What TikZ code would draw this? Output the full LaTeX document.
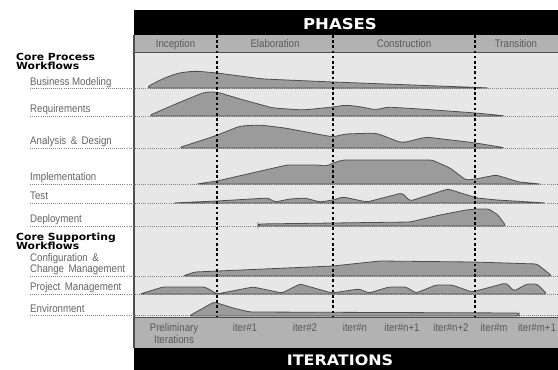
\documentclass[tikz,border=0pt]{standalone}
\usepackage{fontspec}
\newfontfamily\labelfont{Liberation Sans}[FakeStretch=0.88]
\newfontfamily\headfont{DejaVu Sans}[FakeStretch=1.1]
\definecolor{chartbg}{RGB}{231,231,231}
\definecolor{bandgray}{RGB}{178,178,178}
\definecolor{humpfill}{RGB}{155,155,155}
\definecolor{humpline}{RGB}{78,78,78}
\definecolor{labelgray}{RGB}{100,100,100}

\begin{document}
\begin{tikzpicture}[x=1pt,y=-1pt,
    hump/.style={fill=humpfill,draw=humpline,line width=0.8pt,rounded corners=2.5pt},
    rowline/.style={draw=gray,line width=0.7pt,dash pattern=on 0.8pt off 1.3pt},
    phaseline/.style={black,line width=2.6pt,dash pattern=on 2.6pt off 2.6pt},
    wflabel/.style={anchor=base west,inner sep=0pt,text=labelgray,font=\labelfont\fontsize{11}{12}\selectfont},
    grouplabel/.style={anchor=base west,inner sep=0pt,font=\headfont\bfseries\fontsize{9.8}{10}\selectfont},
    barlabel/.style={anchor=base,inner sep=0pt,text=white,font=\headfont\bfseries\fontsize{15}{16}\selectfont},
    cell/.style={anchor=base,inner sep=0pt,text=black!65,font=\labelfont\fontsize{11}{12}\selectfont}]

    \fill[white] (0,0) rectangle (558,370);
    \useasboundingbox (0,0) rectangle (558,370);

    %%%%%%%%%%%%%%%%%%%%%%%%%%%%%%%%%%%%%%%%%%%%%%%%%%%%%%

    % bars and bands
    \fill[black] (134,10) rectangle (558,35);
    \fill[bandgray] (134,35) rectangle (558,52);
    \fill[chartbg] (134,52) rectangle (558,317);
    \fill[bandgray] (134,317) rectangle (558,348);
    \fill[black] (134,348) rectangle (558,370);
    \draw[humpline,line width=1pt] (134,52) -- (558,52);
    \draw[humpline,line width=1pt] (134,317) -- (558,317);
    \draw[humpline,line width=1.5pt] (134,35) -- (134,348);

    % dotted rows under the workflows
    \foreach \y in {88,116,148,184,203,226,276,294,315}
        \draw[rowline] (30,\y) -- (558,\y);

    %%%%%%%%%%%%%%%%%%%%%%%%%%%%%%%%%%%%%%%%%%%%%%%%%%%%%%

    % core process workflows
    \node[grouplabel] (cpw1) at (16,60) {Core Process};
    \node[grouplabel] (cpw2) at (16,69.5) {Workflows};

    \node[wflabel] (busmod) at (30,85) {Business Modeling};
    \draw[hump,rounded corners=6pt] (145,88) -- (162,79) -- (178,73) -- (195,71) -- (217,73) -- (263,79) -- (333,82) -- (491,88) -- cycle;

    \node[wflabel] (req) at (30,112.5) {Requirements};
    \draw[hump,rounded corners=5pt] (148,116) -- (178,103) -- (205,92) -- (217,92) -- (240,99) -- (273,108) -- (303,110) -- (333,107) -- (346,105) -- (362,107) -- (376,110) -- (387,107) -- (420,109) -- (476,113) -- (506,116) -- cycle;

    \node[wflabel] (anadesign) at (30,144) {Analysis \,\&\, Design};
    \draw[hump,rounded corners=5pt] (178,148) -- (215,136) -- (240,126) -- (260,125) -- (285,128) -- (333,137) -- (345,134) -- (376,133) -- (402,143) -- (426,137) -- (476,143) -- (506,148) -- cycle;

    \node[wflabel] (impl) at (30,180) {Implementation};
    \draw[hump] (197,184) -- (217,181) -- (287,165) -- (317,165) -- (327,166) -- (333,163) -- (343,160) -- (432,160) -- (450,168) -- (466,180) -- (476,179) -- (496,175) -- (519,182) -- (540,184) -- cycle;

    \node[wflabel] (test) at (30,199) {Test};
    \draw[hump] (173,203) -- (217,201) -- (268,198) -- (275,202) -- (290,199) -- (305,198) -- (320,202) -- (333,200) -- (343,197) -- (367,202) -- (402,193) -- (410,201) -- (448,189) -- (477,198) -- (497,200) -- (546,203) -- cycle;

    \node[wflabel] (deploy) at (30,222) {Deployment};
    \draw[hump] (258,226) -- (258,224) -- (410,222) -- (440,215) -- (466,210) -- (476,209) -- (489,209) -- (498,215) -- (506,226) -- cycle;

    %%%%%%%%%%%%%%%%%%%%%%%%%%%%%%%%%%%%%%%%%%%%%%%%%%%%%%

    % core supporting workflows
    \node[grouplabel] (csw1) at (16,240) {Core Supporting};
    \node[grouplabel] (csw2) at (16,249) {Workflows};

    \node[wflabel] (config1) at (30,261) {Configuration \,\&};
    \node[wflabel] (config2) at (30,272) {Change \,Management};
    \draw[hump] (183,276) -- (195,272) -- (333,266) -- (380,261) -- (473,262) -- (537,264) -- (552,276) -- cycle;

    \node[wflabel] (projman) at (30,290) {Project \,Management};
    \draw[hump] (140,294) -- (163,287) -- (205,287) -- (217,294) -- (227,292) -- (253,287) -- (282,293) -- (300,284) -- (332,293) -- (359,289) -- (369,293) -- (389,287) -- (406,287) -- (416,293) -- (436,285) -- (452,285) -- (472,292) -- (506,283) -- (514,291) -- (527,284) -- (537,284) -- (547,294) -- cycle;

    \node[wflabel] (env) at (30,312) {Environment};
    \draw[hump] (189,316) -- (214,302) -- (233,308) -- (250,312) -- (519,313) -- (519,316) -- cycle;

    %%%%%%%%%%%%%%%%%%%%%%%%%%%%%%%%%%%%%%%%%%%%%%%%%%%%%%

    % phase boundaries
    \foreach \x in {217,333,475}
        \draw[phaseline] (\x,35) -- (\x,317);

    % phases
    \node[barlabel] (phases) at (340,29) {PHASES};
    \node[cell] (incep) at (175.5,47) {Inception};
    \node[cell] (elab) at (275,47) {Elaboration};
    \node[cell] (constr) at (404,47) {Construction};
    \node[cell] (trans) at (516,47) {Transition};

    %%%%%%%%%%%%%%%%%%%%%%%%%%%%%%%%%%%%%%%%%%%%%%%%%%%%%%

    % iterations
    \node[cell] (prelim1) at (174,331) {Preliminary};
    \node[cell] (prelim2) at (174,343) {Iterations};
    \node[cell] (iter1) at (245,331) {iter\#1};
    \node[cell] (iter2) at (305,331) {iter\#2};
    \node[cell] (itern) at (355,331) {iter\#n};
    \node[cell] (iternA) at (402,331) {iter\#n+1};
    \node[cell] (iternB) at (451,331) {iter\#n+2};
    \node[cell] (iterm) at (494,331) {iter\#m};
    \node[cell] (itermA) at (537,331) {iter\#m+1};
    \node[barlabel,font=\headfont\bfseries\fontsize{14.5}{15}\selectfont] (iters) at (340,365) {ITERATIONS};

\end{tikzpicture}
\end{document}
